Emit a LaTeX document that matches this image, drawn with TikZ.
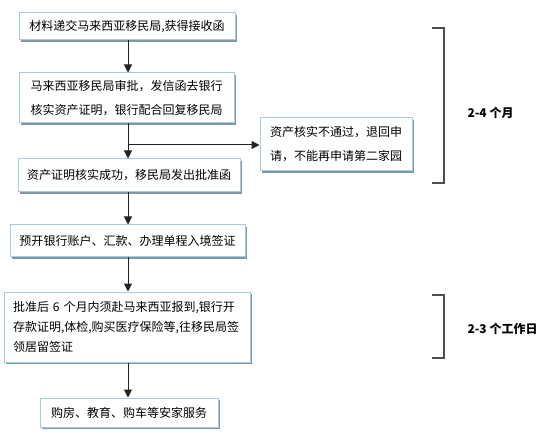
\documentclass[tikz,border=0pt]{standalone}
\usepackage{fontspec}
\setmainfont{Noto Sans CJK SC}
\setsansfont{Liberation Sans}
\usetikzlibrary{arrows.meta,shadows}
\definecolor{boxborder}{HTML}{A9CDD8}
\definecolor{boxshadow}{HTML}{7E98A6}
\definecolor{linec}{HTML}{222222}
\tikzset{
  flowbox/.style={draw=boxborder, fill=white, line width=1pt, inner sep=0pt,
    align=left, anchor=center,
    drop shadow={shadow xshift=1.6pt, shadow yshift=-1.6pt, fill=boxshadow, opacity=1}},
  arr/.style={draw=linec, line width=1pt, -{Triangle[length=8pt,width=8pt]}},
  bracketline/.style={draw=linec!80, line width=1.3pt},
  spanlabel/.style={anchor=west, font=\fontsize{12}{14}\selectfont\bfseries}
}
\begin{document}
\begin{tikzpicture}[x=1pt,y=-1pt]
\useasboundingbox (0,0) rectangle (543,438);
\fill[white] (0,0) rectangle (543,438);

\node[flowbox, minimum width=216pt, minimum height=27pt, font=\fontsize{12}{24}\selectfont] (b1) at (127,26.5) {材料递交马来西亚移民局,获得接收函};
\node[flowbox, minimum width=215pt, minimum height=50pt, font=\fontsize{12}{24}\selectfont] (b2) at (126.5,98) {马来西亚移民局审批，发信函去银行\\核实资产证明，银行配合回复移民局};
\node[flowbox, minimum width=222pt, minimum height=33pt, font=\fontsize{12}{24}\selectfont] (b3) at (129,175.5) {资产证明核实成功，移民局发出批准函};
\node[flowbox, minimum width=152pt, minimum height=53pt, font=\fontsize{12}{24}\selectfont] (b4) at (336,144.5) {资产核实不通过，退回申\\请，不能再申请第二家园};
\node[flowbox, minimum width=235pt, minimum height=32pt, font=\fontsize{12}{24}\selectfont] (b5) at (127.5,241) {预开银行账户、汇款、办理单程入境签证};
\node[flowbox, minimum width=246pt, minimum height=70pt, text width=228pt, font=\fontsize{12}{20}\selectfont] (b6) at (127,327) {批准后 6 个月内须赴马来西亚报到,银行开\\存款证明,体检,购买医疗保险等,往移民局签\\领居留签证};
\node[flowbox, minimum width=178pt, minimum height=29pt, font=\fontsize{12}{24}\selectfont] (b7) at (129,412.5) {购房、教育、购车等安家服务};

\coordinate (spine) at (128,0);
\coordinate (br) at (128,145);

\draw[arr] (b1.south -| spine) -- (b2.north -| spine);
\draw[arr] (b2.south -| spine) -- (b3.north -| spine);
\draw[arr] (br) -- (br -| b4.west);
\draw[arr] (b3.south -| spine) -- (b5.north -| spine);
\draw[arr] (b5.south -| spine) -- (b6.north -| spine);
\draw[arr] (b6.south -| spine) -- (b7.north -| spine);

\coordinate (k1a) at (432,28);
\coordinate (k1b) at (444,28);
\coordinate (k1c) at (444,183);
\coordinate (k1d) at (432,183);
\draw[bracketline] (k1a) -- (k1b) -- (k1c) -- (k1d);
\node[spanlabel] (l1) at (464,113) {2-4 个月};

\coordinate (k2a) at (432,295);
\coordinate (k2b) at (444,295);
\coordinate (k2c) at (444,358);
\coordinate (k2d) at (432,358);
\draw[bracketline] (k2a) -- (k2b) -- (k2c) -- (k2d);
\node[spanlabel] (l2) at (464,329) {2-3 个工作日};
\end{tikzpicture}
\end{document}
